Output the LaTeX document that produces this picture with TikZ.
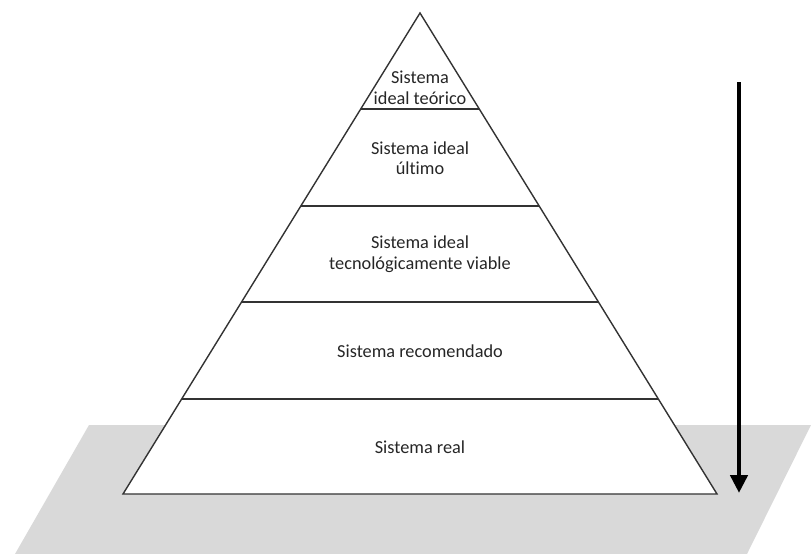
\documentclass[tikz,border=0pt]{standalone}
\usepackage{fontspec}
\setmainfont[Ligatures={NoCommon}]{Carlito}
\usetikzlibrary{arrows.meta}
\definecolor{floorgray}{HTML}{D9D9D9}
\definecolor{edgegray}{HTML}{333333}
\tikzset{
  level/.style={draw=edgegray, line width=1.4pt},
  label/.style={align=center, font=\fontsize{18.3}{20.5}\selectfont, text=black!85, inner sep=0pt},
  flow/.style={line width=4.8pt, -{Triangle[width=17pt,length=18pt]}}
}
\begin{document}
\begin{tikzpicture}[x=1pt,y=-1pt]
  \useasboundingbox (0,0) rectangle (811,554);
  % floor plane
  \fill[floorgray] (89,425) -- (811,425) -- (747,554) -- (15,554) -- cycle;
  % pyramid outline and tiers
  \coordinate (apex) at (420,13);
  \coordinate (bl) at (123,494);
  \coordinate (br) at (717,494);
  \filldraw[fill=white, level] (apex) -- (bl) -- (br) -- cycle;
  \foreach \y in {109,206,302,399}{
    \pgfmathsetmacro{\half}{(\y-13)*0.617464}
    \draw[level] (420-\half,\y) -- (420+\half,\y);
  }
  % tier labels
  \node[label] (t1) at (420,88) {Sistema\\ideal teórico};
  \node[label] (t2) at (420,158) {Sistema ideal\\último};
  \node[label] (t3) at (420,254) {Sistema ideal\\tecnológicamente viable};
  \node[label] (t4) at (420,351) {Sistema recomendado};
  \node[label] (t5) at (420,447) {Sistema real};
  % downward arrow
  \coordinate (atop) at (739,82);
  \coordinate (abot) at (739,493);
  \draw[flow] (atop) -- (abot);
\end{tikzpicture}
\end{document}
